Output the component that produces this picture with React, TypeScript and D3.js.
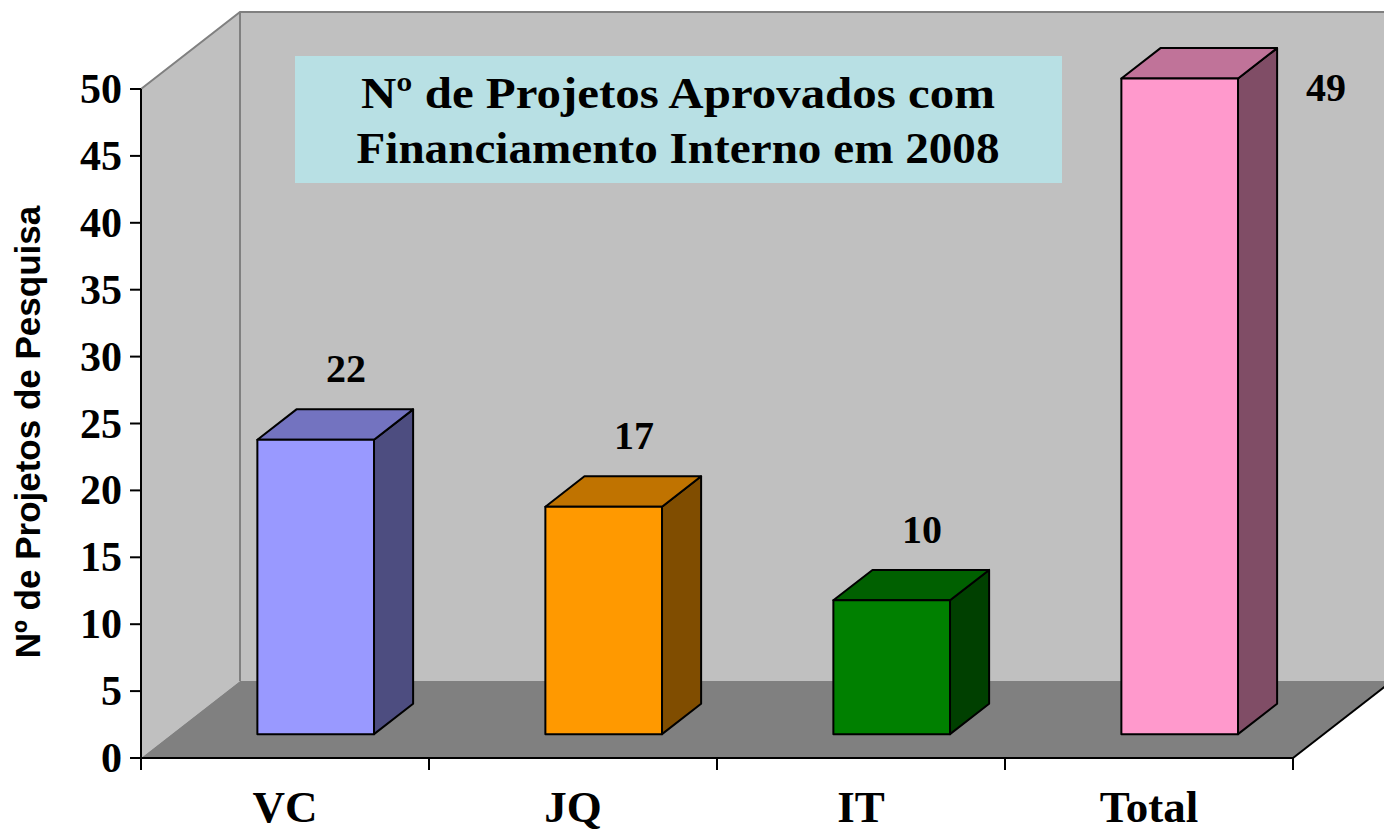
import * as d3 from 'd3';

const categories = ['VC', 'JQ', 'IT', 'Total'];
const values = [22, 17, 10, 49];
const frontColors = ['#9999ff', '#ff9900', '#008000', '#ff99cc'];
const topColors = ['#7373c0', '#c07300', '#006000', '#c07399'];
const sideColors = ['#4d4d80', '#804d00', '#004000', '#804d66'];
const yTicks = [0, 5, 10, 15, 20, 25, 30, 35, 40, 45, 50];
const titleLines = ['Nº de Projetos Aprovados com', 'Financiamento Interno em 2008'];
const titleWidths = [634, 643];
const yTitle = 'Nº de Projetos de Pesquisa';

const W = 1384;
const H = 829;
const SERIF = '"Liberation Serif", "Times New Roman", serif';
const SANS = '"Liberation Sans", Arial, sans-serif';

// 3D box offsets: depth vector of the floor/back wall
const DX = 99;
const DY = -77;
const Z0 = 0.31; // bar front depth
const Z1 = 0.705; // bar back depth

export default function App() {
    const x = d3.scaleBand().domain(categories).range([141, 1293]).paddingInner(0.595).paddingOuter(0.2975);
    const y = d3.scaleLinear().domain([0, 50]).range([758, 89]);

    const x0 = x.range()[0];
    const x1 = x.range()[1];
    const yb = y(0);
    const yt = y(50);
    const pt = (px: number, py: number, z: number) => `${px + z * DX},${py + z * DY}`;

    return (
        <svg width={W} height={H} style={{ position: 'absolute', left: 0, top: 0, display: 'block', background: '#fff' }}>
            {/* left wall */}
            <polygon points={`${pt(x0, yt, 0)} ${pt(x0, yt, 1)} ${pt(x0, yb, 1)} ${pt(x0, yb, 0)}`} fill="#c0c0c0" />
            {/* back wall */}
            <polygon points={`${pt(x0, yt, 1)} ${pt(x1, yt, 1)} ${pt(x1, yb, 1)} ${pt(x0, yb, 1)}`} fill="#c0c0c0" />
            {/* floor */}
            <polygon points={`${pt(x0, yb, 0)} ${pt(x0, yb, 1)} ${pt(x1, yb, 1)} ${pt(x1, yb, 0)}`} fill="#808080" />
            <polyline points={`${pt(x0, yt, 0)} ${pt(x0, yt, 1)} ${pt(x1, yt, 1)}`} fill="none" stroke="#808080" strokeWidth={2} />
            <line x1={x0 + DX} y1={yt + DY} x2={x0 + DX} y2={yb + DY} stroke="#808080" strokeWidth={2} />

            {/* title box */}
            <rect x={295} y={56} width={767} height={127} fill="#b8e0e4" />
            {titleLines.map((t, i) => (
                <text
                    key={t}
                    x={678}
                    y={108 + i * 55}
                    textAnchor="middle"
                    textLength={titleWidths[i]}
                    lengthAdjust="spacingAndGlyphs"
                    fontFamily={SERIF}
                    fontWeight="bold"
                    fontSize={44}
                    fill="#000"
                >
                    {t}
                </text>
            ))}

            {/* bars */}
            {categories.map((c, i) => {
                const bx0 = x(c)!;
                const bx1 = bx0 + x.bandwidth();
                const v = values[i];
                const top = y(v);
                const front = `${pt(bx0, top, Z0)} ${pt(bx1, top, Z0)} ${pt(bx1, yb, Z0)} ${pt(bx0, yb, Z0)}`;
                const topFace = `${pt(bx0, top, Z0)} ${pt(bx0, top, Z1)} ${pt(bx1, top, Z1)} ${pt(bx1, top, Z0)}`;
                const side = `${pt(bx1, top, Z0)} ${pt(bx1, top, Z1)} ${pt(bx1, yb, Z1)} ${pt(bx1, yb, Z0)}`;
                const backTop = top + Z1 * DY;
                const overflow = backTop - 29 < 60;
                const lx = overflow ? bx1 + Z1 * DX + 49 : bx0 + x.bandwidth() / 2 + 61;
                const ly = overflow ? top + Z0 * DY + 22 : backTop - 27;
                return (
                    <g key={c} stroke="#000" strokeWidth={2} strokeLinejoin="round">
                        <polygon points={side} fill={sideColors[i]} />
                        <polygon points={topFace} fill={topColors[i]} />
                        <polygon points={front} fill={frontColors[i]} />
                        <text x={lx} y={ly} stroke="none" textAnchor="middle" fontFamily={SERIF} fontWeight="bold" fontSize={40} fill="#000">
                            {v}
                        </text>
                    </g>
                );
            })}

            {/* axes */}
            <line x1={x0} y1={yt} x2={x0} y2={yb} stroke="#000" strokeWidth={2} />
            <line x1={x0} y1={yb} x2={x1} y2={yb} stroke="#000" strokeWidth={2} />
            <line x1={x1} y1={yb} x2={x1 + DX} y2={yb + DY} stroke="#000" strokeWidth={2} />
            {yTicks.map(t => (
                <g key={t}>
                    <line x1={x0 - 11} y1={y(t)} x2={x0} y2={y(t)} stroke="#000" strokeWidth={2} />
                    <text x={122} y={y(t) + 14} textAnchor="end" fontFamily={SERIF} fontWeight="bold" fontSize={42} fill="#000">
                        {t}
                    </text>
                </g>
            ))}
            {d3.range(categories.length + 1).map(i => {
                const tx = x0 + i * x.step();
                return <line key={i} x1={tx} y1={yb} x2={tx} y2={yb + 12} stroke="#000" strokeWidth={2} />;
            })}
            {categories.map(c => (
                <text key={c} x={x(c)! + x.bandwidth() / 2} y={822} textAnchor="middle" fontFamily={SERIF} fontWeight="bold" fontSize={45} fill="#000">
                    {c}
                </text>
            ))}
            <text
                transform={`translate(40,432) rotate(-90)`}
                textAnchor="middle"
                fontFamily={SANS}
                fontWeight="bold"
                fontSize={35}
                fill="#000"
            >
                {yTitle}
            </text>
        </svg>
    );
}
